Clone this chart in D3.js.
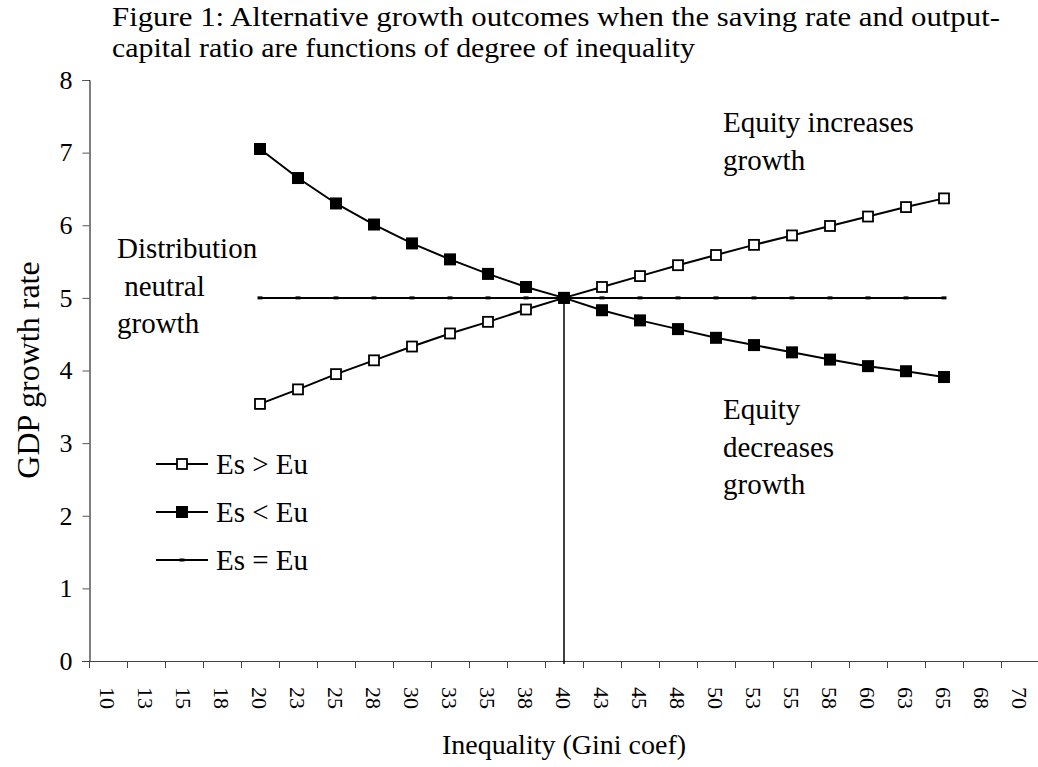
<!DOCTYPE html>
<meta charset="utf-8">
<style>
    body { margin: 0; background: #fff; }
    svg { display: block; }
    text { font-family: "Liberation Serif", "Times New Roman", serif; fill: #000; }
</style>
<svg id="chart" width="1038" height="767"></svg>
<script src="https://cdn.jsdelivr.net/npm/d3@7"></script>
<script>
    // Gini categories on the x axis (Excel category axis)
    var categories = ["10", "13", "15", "18", "20", "23", "25", "28", "30", "33", "35", "38", "40",
        "43", "45", "48", "50", "53", "55", "58", "60", "63", "65", "68", "70"];
    // categories with data
    var seriesCats = ["20", "23", "25", "28", "30", "33", "35", "38", "40",
        "43", "45", "48", "50", "53", "55", "58", "60", "63", "65"];
    var esGreater = [3.54, 3.74, 3.95, 4.14, 4.33, 4.51, 4.67, 4.84, 5.0,
        5.15, 5.30, 5.45, 5.59, 5.73, 5.86, 5.99, 6.12, 6.25, 6.37];
    var esLess = [7.05, 6.65, 6.30, 6.01, 5.75, 5.53, 5.33, 5.15, 5.0,
        4.83, 4.69, 4.57, 4.45, 4.35, 4.25, 4.15, 4.06, 3.99, 3.91];
    var esEqual = [5, 5, 5, 5, 5, 5, 5, 5, 5, 5, 5, 5, 5, 5, 5, 5, 5, 5, 5];
    var yTicks = [0, 1, 2, 3, 4, 5, 6, 7, 8];

    var svg = d3.select("#chart");

    var x = d3.scaleBand().domain(categories).range([89, 1039]).padding(0);
    var y = d3.scaleLinear().domain([0, 8]).range([661, 80]);
    var cx = c => x(c) + x.bandwidth() / 2;

    // title, two lines set tight like the original
    svg.append("text").attr("font-size", 27)
        .attr("x", 112).attr("y", 26)
        .attr("textLength", 888).attr("lengthAdjust", "spacingAndGlyphs")
        .text("Figure 1: Alternative growth outcomes when the saving rate and output-");
    svg.append("text").attr("font-size", 27)
        .attr("x", 112).attr("y", 57)
        .attr("textLength", 583).attr("lengthAdjust", "spacingAndGlyphs")
        .text("capital ratio are functions of degree of inequality");

    // y axis
    var yAxis = svg.append("g")
        .attr("transform", "translate(89.5,0)")
        .call(d3.axisLeft(y).tickValues(yTicks).tickSize(7).tickPadding(10).tickFormat(d3.format("d")));
    yAxis.select(".domain").attr("stroke", "#000");
    yAxis.selectAll(".tick line").attr("stroke", "#555");
    yAxis.selectAll("text").attr("font-size", 26).attr("font-family", "Liberation Serif, serif");

    // x axis: line, ticks at category boundaries, rotated labels
    var edges = categories.map(c => x(c)).concat([x.range()[1]]);
    var xAxis = svg.append("g");
    xAxis.append("line")
        .attr("x1", 82).attr("x2", 1039)
        .attr("y1", 661.5).attr("y2", 661.5)
        .attr("stroke", "#444");
    xAxis.selectAll(".xtick").data(edges)
        .join("line")
        .attr("class", "xtick")
        .attr("x1", d => Math.round(d) + 0.5)
        .attr("x2", d => Math.round(d) + 0.5)
        .attr("y1", 661).attr("y2", 668)
        .attr("stroke", "#444");
    xAxis.selectAll(".xlab").data(categories)
        .join("text")
        .attr("class", "xlab")
        .attr("font-size", 22)
        .attr("dy", "0.35em")
        .attr("transform", d => "translate(" + cx(d) + ",687) rotate(90)")
        .text(d => d);

    // axis titles
    svg.append("text")
        .attr("font-size", 32)
        .attr("text-anchor", "middle")
        .attr("transform", "translate(39,370) rotate(-90)")
        .text("GDP growth rate");
    svg.append("text")
        .attr("font-size", 28)
        .attr("text-anchor", "middle")
        .attr("x", 564).attr("y", 754)
        .text("Inequality (Gini coef)");

    var line = d3.line().x(d => cx(d[0])).y(d => y(d[1]));
    var zip = vals => seriesCats.map((c, i) => [c, vals[i]]);

    // Es = Eu
    svg.append("path").datum(zip(esEqual))
        .attr("d", line).attr("fill", "none").attr("stroke", "#000").attr("stroke-width", 2);
    svg.selectAll(".eqm").data(zip(esEqual)).join("rect")
        .attr("class", "eqm")
        .attr("x", d => cx(d[0]) - 2.5).attr("y", d => y(d[1]) - 1.5)
        .attr("width", 5).attr("height", 3).attr("fill", "#000");

    // vertical reference at Gini 40
    svg.append("line")
        .attr("x1", cx("40")).attr("x2", cx("40"))
        .attr("y1", y(5)).attr("y2", y(0) + 3)
        .attr("stroke", "#000").attr("stroke-width", 1.5);

    // Es > Eu
    svg.append("path").datum(zip(esGreater))
        .attr("d", line).attr("fill", "none").attr("stroke", "#000").attr("stroke-width", 2);
    svg.selectAll(".gtm").data(zip(esGreater)).join("rect")
        .attr("class", "gtm")
        .attr("x", d => cx(d[0]) - 5).attr("y", d => y(d[1]) - 5)
        .attr("width", 10).attr("height", 10)
        .attr("fill", "#fff").attr("stroke", "#000").attr("stroke-width", 1.8);

    // Es < Eu
    svg.append("path").datum(zip(esLess))
        .attr("d", line).attr("fill", "none").attr("stroke", "#000").attr("stroke-width", 2);
    svg.selectAll(".ltm").data(zip(esLess)).join("rect")
        .attr("class", "ltm")
        .attr("x", d => cx(d[0]) - 6).attr("y", d => y(d[1]) - 6)
        .attr("width", 12).attr("height", 12).attr("fill", "#000");

    // annotations
    function note(lines, x0, y0) {
        var t = svg.append("text").attr("font-size", 29);
        lines.forEach((s, i) => {
            t.append("tspan").attr("x", x0).attr("y", y0 + i * 37.5)
                .attr("xml:space", "preserve").text(s);
        });
    }
    svg.attr("xml:space", "preserve");
    note(["Equity increases", "growth"], 723, 132);
    note(["Distribution", " neutral", "growth"], 117, 258);
    note(["Equity", "decreases", "growth"], 723, 419);

    // legend
    var legendItems = [
        { label: "Es > Eu", type: "open" },
        { label: "Es < Eu", type: "filled" },
        { label: "Es = Eu", type: "dash" }
    ];
    var legend = svg.append("g");
    legendItems.forEach((d, i) => {
        var ly = 464 + i * 48;
        var g = legend.append("g");
        g.append("line").attr("x1", 156).attr("x2", 208).attr("y1", ly).attr("y2", ly)
            .attr("stroke", "#000").attr("stroke-width", 2);
        if (d.type == "open") {
            g.append("rect").attr("x", 177).attr("y", ly - 5).attr("width", 10).attr("height", 10)
                .attr("fill", "#fff").attr("stroke", "#000").attr("stroke-width", 1.8);
        } else if (d.type == "filled") {
            g.append("rect").attr("x", 176).attr("y", ly - 6).attr("width", 12).attr("height", 12)
                .attr("fill", "#000");
        } else {
            g.append("rect").attr("x", 179.5).attr("y", ly - 1.5).attr("width", 5).attr("height", 3)
                .attr("fill", "#000");
        }
        g.append("text").attr("x", 216).attr("y", ly + 10).attr("font-size", 29).text(d.label);
    });
</script>
